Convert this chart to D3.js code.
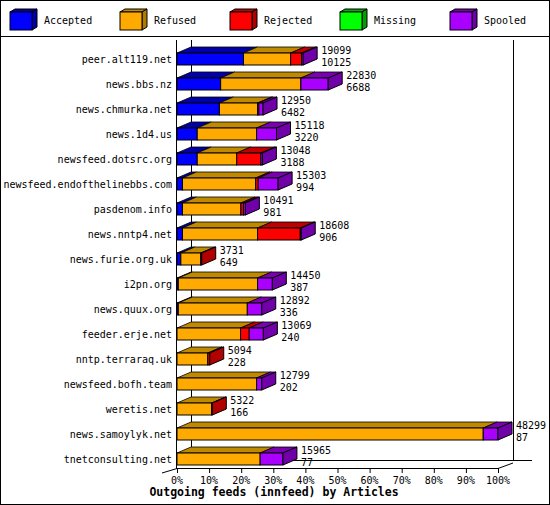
<!DOCTYPE html>
<html><head><meta charset="utf-8">
<script src="https://cdn.jsdelivr.net/npm/d3@7"></script>
<style>body{margin:0;background:#fff}text{font-family:"DejaVu Sans Mono",monospace;font-size:10px}</style>
</head><body><svg id="c" width="550" height="505"></svg>
<script>
const categories=["peer.alt119.net","news.bbs.nz","news.chmurka.net","news.1d4.us","newsfeed.dotsrc.org","newsfeed.endofthelinebbs.com","pasdenom.info","news.nntp4.net","news.furie.org.uk","i2pn.org","news.quux.org","feeder.erje.net","nntp.terraraq.uk","newsfeed.bofh.team","weretis.net","news.samoylyk.net","tnetconsulting.net"];
const seriesNames=["Accepted","Refused","Rejected","Missing","Spooled"];
const accepted=[20.7,13.6,13.2,6.3,6.3,1.7,1.7,1.7,1.2,0.4,0.4,0,0,0,0,0,0];
const refused=[14.7,25.0,11.9,18.5,12.3,22.8,18.2,23.4,6.2,24.7,21.5,19.8,9.6,24.8,10.8,95.4,25.9];
const rejected=[3.4,0,0.4,0,7.5,0.8,0.8,13.3,0.3,0,0,2.7,0.6,0,0.2,0,0];
const missing=[0,0,0,0,0,0,0,0,0,0,0,0,0,0,0,0,0];
const spooled=[0.5,8.5,1.3,6.2,0.5,6.2,0.6,0.3,0,4.6,4.5,4.4,0,1.6,0,4.6,7.1];
const totals=[19099,22830,12950,15118,13048,15303,10491,18608,3731,14450,12892,13069,5094,12799,5322,48299,15965];
const seconds=[10125,6688,6482,3220,3188,994,981,906,649,387,336,240,228,202,166,87,77];
const xTicks=[0,10,20,30,40,50,60,70,80,90,100];
const colors=["#0000ff","#ffaa00","#ff0000","#00ff00","#aa00ff"];
const darks=["#0000a8","#b07c00","#b00000","#00a000","#7000a8"];
const tops=["#0000a8","#c08a00","#c00000","#00b000","#7a00b0"];
const series=[accepted,refused,rejected,missing,spooled];

const svg=d3.select("#c");
const dx=14,dy=6,bh=12;
const x=d3.scaleLinear().domain([0,100]).range([177,498]);
const y=d3.scalePoint().domain(categories).range([59,459]);
svg.append("rect").attr("x",0.5).attr("y",0.5).attr("width",549).attr("height",504).attr("fill","none").attr("stroke","#000");
svg.append("line").attr("x1",0).attr("x2",550).attr("y1",36.5).attr("y2",36.5).attr("stroke","#000");
seriesNames.forEach((n,i)=>{
  const lx=10+i*110, ly=12;
  const g=svg.append("g");
  g.append("polygon").attr("points",`${lx},${ly} ${lx+22},${ly} ${lx+27},${ly-3} ${lx+5},${ly-3}`).attr("fill",tops[i]).attr("stroke","#000");
  g.append("polygon").attr("points",`${lx+22},${ly} ${lx+27},${ly-3} ${lx+27},${ly+15} ${lx+22},${ly+18}`).attr("fill",darks[i]).attr("stroke","#000");
  g.append("rect").attr("x",lx).attr("y",ly).attr("width",22).attr("height",18).attr("fill",colors[i]).attr("stroke","#000");
  g.append("text").attr("x",lx+34).attr("y",ly+12).text(n);
});
svg.append("line").attr("x1",191.5).attr("x2",191.5).attr("y1",40).attr("y2",461).attr("stroke","#000");
svg.append("line").attr("x1",513.5).attr("x2",513.5).attr("y1",40).attr("y2",461).attr("stroke","#000");
svg.append("line").attr("x1",191).attr("x2",532).attr("y1",460.5).attr("y2",460.5).attr("stroke","#000");
svg.append("line").attr("x1",176.5).attr("x2",176.5).attr("y1",40).attr("y2",469).attr("stroke","#000");
svg.append("polyline").attr("points",`162,473 177,468.5 498,468.5 513,463`).attr("fill","none").attr("stroke","#000");
xTicks.forEach(t=>{
  svg.append("line").attr("x1",x(t)+0.5).attr("x2",x(t)+0.5).attr("y1",468).attr("y2",473).attr("stroke","#000");
  svg.append("text").attr("x",x(t)).attr("y",484).attr("text-anchor","middle").text(t+"%");
});
svg.append("text").attr("x",274).attr("y",496).attr("text-anchor","middle").attr("font-weight","bold").style("font-size","11.5px").text("Outgoing feeds (innfeed) by Articles");
categories.forEach((c,r)=>{
  const cy=y(c), top=cy-bh/2;
  const g=svg.append("g");
  let acc=0;
  const segs=[];
  series.forEach((s,i)=>{const v=s[r]; if(v>0){segs.push([i,acc,acc+v]);acc+=v;}});
  segs.forEach(([i,a,b])=>{
    const x0=x(a),x1=x(b);
    g.append("polygon").attr("points",`${x0},${top} ${x1},${top} ${x1+dx},${top-dy} ${x0+dx},${top-dy}`).attr("fill",tops[i]).attr("stroke","#000").attr("stroke-width",0.8);
  });
  segs.forEach(([i,a,b])=>{
    g.append("rect").attr("x",x(a)).attr("y",top).attr("width",x(b)-x(a)).attr("height",bh).attr("fill",colors[i]).attr("stroke","#000").attr("stroke-width",1);
  });
  const ls=segs[segs.length-1], xe=x(ls[2]);
  g.append("polygon").attr("points",`${xe},${top} ${xe+dx},${top-dy} ${xe+dx},${top+bh-dy} ${xe},${top+bh}`).attr("fill",darks[ls[0]]).attr("stroke","#000");
  svg.append("text").attr("x",172).attr("y",cy+4).attr("text-anchor","end").text(c);
  svg.append("text").attr("x",xe+dx+4).attr("y",cy-5).text(totals[r]);
  svg.append("text").attr("x",xe+dx+4).attr("y",cy+7).text(seconds[r]);
});
</script></body></html>
